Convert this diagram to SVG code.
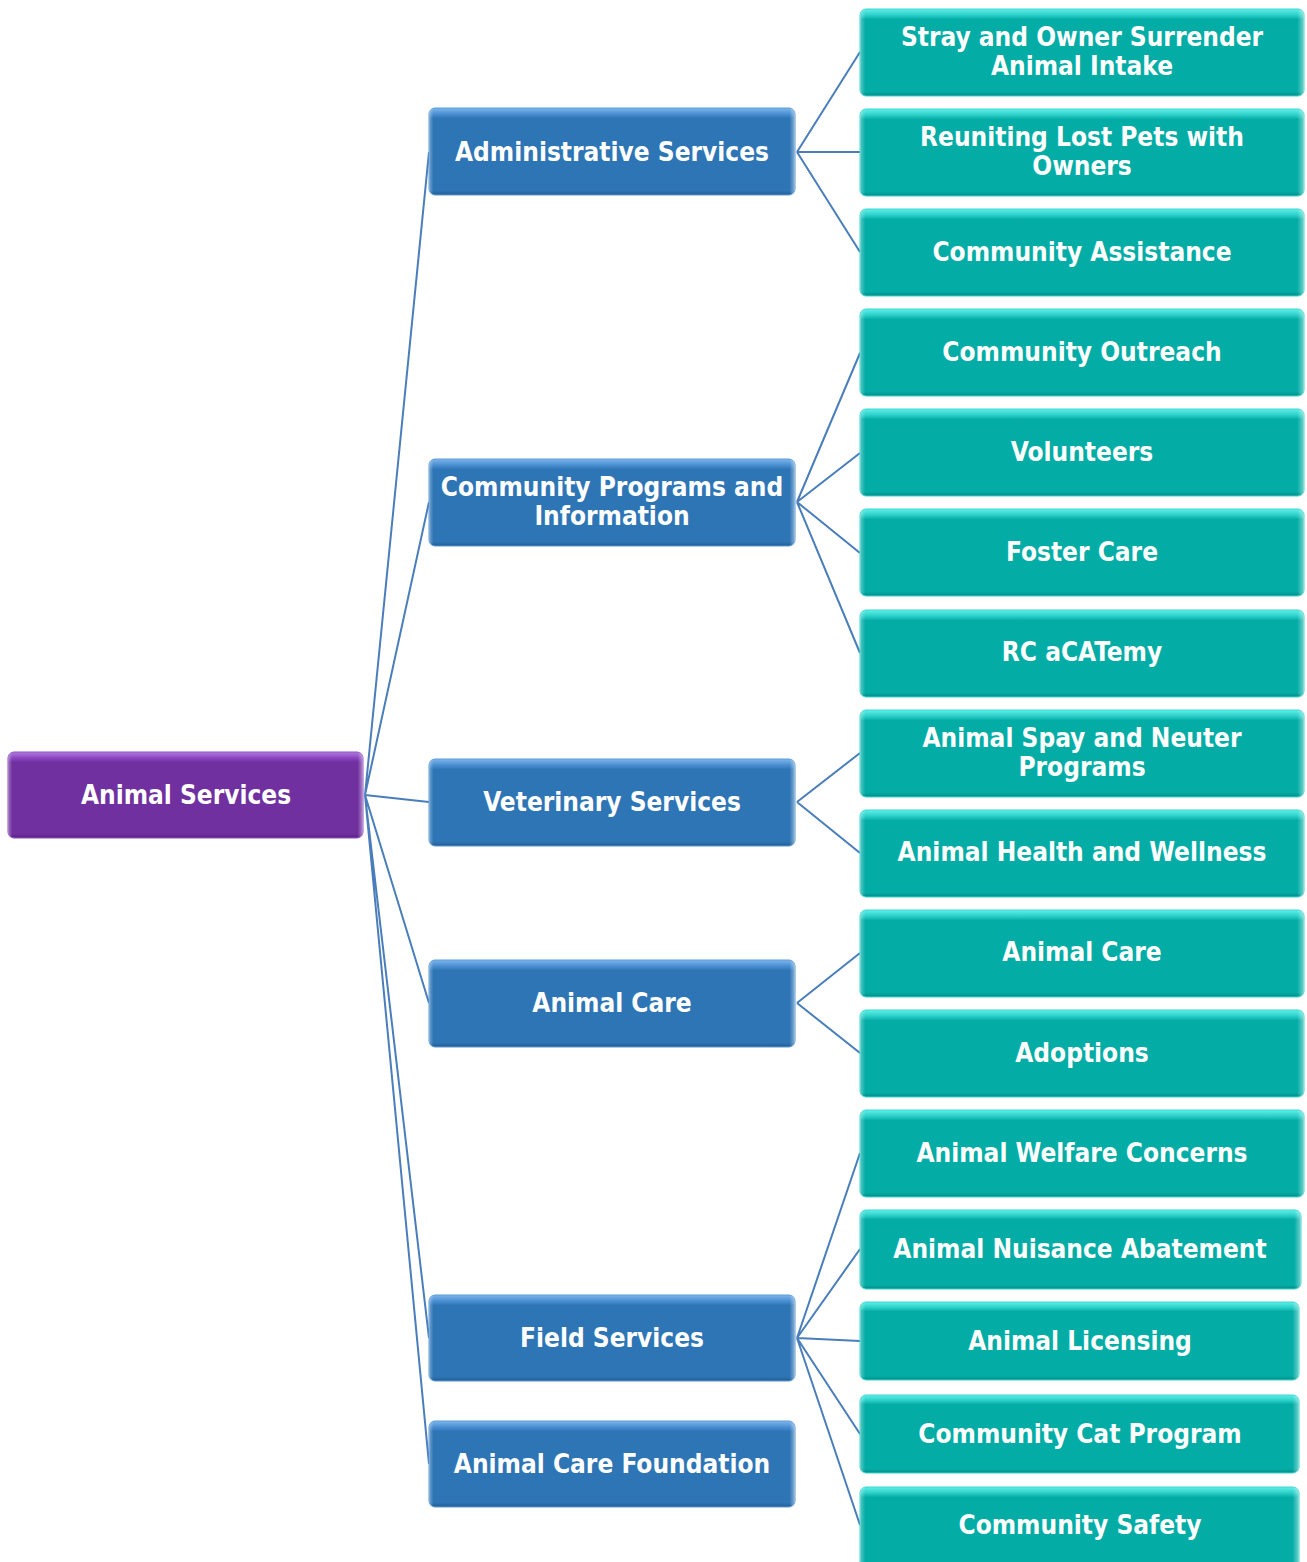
<svg xmlns="http://www.w3.org/2000/svg" width="1307" height="1562" viewBox="0 0 1307 1562">
<defs>
<linearGradient id="gP" x1="0" y1="0" x2="0" y2="1">
<stop offset="0" stop-color="#B27CE0"/><stop offset="0.07" stop-color="#8A45C0"/><stop offset="0.12" stop-color="#7030A0"/><stop offset="0.95" stop-color="#7030A0"/><stop offset="1" stop-color="#5A2282"/>
</linearGradient>
<linearGradient id="gB" x1="0" y1="0" x2="0" y2="1">
<stop offset="0" stop-color="#7FB6EC"/><stop offset="0.07" stop-color="#4A8FD2"/><stop offset="0.12" stop-color="#2E75B6"/><stop offset="0.95" stop-color="#2E75B6"/><stop offset="1" stop-color="#235C92"/>
</linearGradient>
<linearGradient id="gT" x1="0" y1="0" x2="0" y2="1">
<stop offset="0" stop-color="#5FF0EA"/><stop offset="0.07" stop-color="#2CCFC8"/><stop offset="0.12" stop-color="#03ADA6"/><stop offset="0.95" stop-color="#03ADA6"/><stop offset="1" stop-color="#028A84"/>
</linearGradient>
<linearGradient id="gE" x1="0" y1="0" x2="1" y2="0">
<stop offset="0" stop-color="#fff" stop-opacity="0.35"/><stop offset="0.012" stop-color="#fff" stop-opacity="0"/><stop offset="0.985" stop-color="#fff" stop-opacity="0"/><stop offset="1" stop-color="#fff" stop-opacity="0.45"/>
</linearGradient>
</defs>
<style>
.lnk{fill:none;stroke:#4A7EBB;stroke-width:2}
.p{fill:url(#gP);stroke:#8E52C4;stroke-width:1}
.b{fill:url(#gB);stroke:#5A9AD8;stroke-width:1}
.t{fill:url(#gT);stroke:#3CD6CF;stroke-width:1}
.e{fill:url(#gE);stroke:none}
text{font-family:"DejaVu Sans Condensed","DejaVu Sans",sans-serif;font-weight:bold;font-size:26px;fill:#fff;text-anchor:middle}
</style>
<g id="connectors">
<path class="lnk" d="M365 795L429 152M365 795L429 502M365 795L429 802M365 795L429 1003M365 795L429 1338M365 795L429 1464"/>
<path class="lnk" d="M797 152L860 52M797 152L860 152M797 152L860 252"/>
<path class="lnk" d="M797 502L860 353M797 502L860 453M797 502L860 553M797 502L860 653"/>
<path class="lnk" d="M797 802L860 753M797 802L860 853"/>
<path class="lnk" d="M797 1003L860 953M797 1003L860 1053"/>
<path class="lnk" d="M797 1338L860 1153M797 1338L860 1249M797 1338L860 1341M797 1338L860 1434M797 1338L860 1525"/>
</g>
<g id="n-root"><rect class="p" x="8" y="752" width="355" height="86" rx="6"/><rect class="e" x="8" y="752" width="355" height="86" rx="6"/><text x="186" y="804">Animal Services</text></g>
<g id="n-admin"><rect class="b" x="429" y="108" width="366" height="87" rx="6"/><rect class="e" x="429" y="108" width="366" height="87" rx="6"/><text x="612" y="161">Administrative Services</text></g>
<g id="n-cpi"><rect class="b" x="429" y="459" width="366" height="87" rx="6"/><rect class="e" x="429" y="459" width="366" height="87" rx="6"/><text x="612" y="496">Community Programs and</text><text x="612" y="525">Information</text></g>
<g id="n-vet"><rect class="b" x="429" y="759" width="366" height="87" rx="6"/><rect class="e" x="429" y="759" width="366" height="87" rx="6"/><text x="612" y="811">Veterinary Services</text></g>
<g id="n-care"><rect class="b" x="429" y="960" width="366" height="87" rx="6"/><rect class="e" x="429" y="960" width="366" height="87" rx="6"/><text x="612" y="1012">Animal Care</text></g>
<g id="n-field"><rect class="b" x="429" y="1295" width="366" height="86" rx="6"/><rect class="e" x="429" y="1295" width="366" height="86" rx="6"/><text x="612" y="1347">Field Services</text></g>
<g id="n-found"><rect class="b" x="429" y="1421" width="366" height="86" rx="6"/><rect class="e" x="429" y="1421" width="366" height="86" rx="6"/><text x="612" y="1473">Animal Care Foundation</text></g>
<g id="n-stray"><rect class="t" x="860" y="9" width="444" height="87" rx="6"/><rect class="e" x="860" y="9" width="444" height="87" rx="6"/><text x="1082" y="46">Stray and Owner Surrender</text><text x="1082" y="75">Animal Intake</text></g>
<g id="n-reunite"><rect class="t" x="860" y="109" width="444" height="87" rx="6"/><rect class="e" x="860" y="109" width="444" height="87" rx="6"/><text x="1082" y="146">Reuniting Lost Pets with</text><text x="1082" y="175">Owners</text></g>
<g id="n-assist"><rect class="t" x="860" y="209" width="444" height="87" rx="6"/><rect class="e" x="860" y="209" width="444" height="87" rx="6"/><text x="1082" y="261">Community Assistance</text></g>
<g id="n-outreach"><rect class="t" x="860" y="309" width="444" height="87" rx="6"/><rect class="e" x="860" y="309" width="444" height="87" rx="6"/><text x="1082" y="361">Community Outreach</text></g>
<g id="n-vol"><rect class="t" x="860" y="409" width="444" height="87" rx="6"/><rect class="e" x="860" y="409" width="444" height="87" rx="6"/><text x="1082" y="461">Volunteers</text></g>
<g id="n-foster"><rect class="t" x="860" y="509" width="444" height="87" rx="6"/><rect class="e" x="860" y="509" width="444" height="87" rx="6"/><text x="1082" y="561">Foster Care</text></g>
<g id="n-rc"><rect class="t" x="860" y="610" width="444" height="87" rx="6"/><rect class="e" x="860" y="610" width="444" height="87" rx="6"/><text x="1082" y="661">RC aCATemy</text></g>
<g id="n-spay"><rect class="t" x="860" y="710" width="444" height="87" rx="6"/><rect class="e" x="860" y="710" width="444" height="87" rx="6"/><text x="1082" y="747">Animal Spay and Neuter</text><text x="1082" y="776">Programs</text></g>
<g id="n-health"><rect class="t" x="860" y="810" width="444" height="87" rx="6"/><rect class="e" x="860" y="810" width="444" height="87" rx="6"/><text x="1082" y="861">Animal Health and Wellness</text></g>
<g id="n-acare"><rect class="t" x="860" y="910" width="444" height="87" rx="6"/><rect class="e" x="860" y="910" width="444" height="87" rx="6"/><text x="1082" y="961">Animal Care</text></g>
<g id="n-adopt"><rect class="t" x="860" y="1010" width="444" height="87" rx="6"/><rect class="e" x="860" y="1010" width="444" height="87" rx="6"/><text x="1082" y="1062">Adoptions</text></g>
<g id="n-welfare"><rect class="t" x="860" y="1110" width="444" height="87" rx="6"/><rect class="e" x="860" y="1110" width="444" height="87" rx="6"/><text x="1082" y="1162">Animal Welfare Concerns</text></g>
<g id="n-nuis"><rect class="t" x="860" y="1210" width="441" height="79" rx="6"/><rect class="e" x="860" y="1210" width="441" height="79" rx="6"/><text x="1080" y="1258">Animal Nuisance Abatement</text></g>
<g id="n-lic"><rect class="t" x="860" y="1302" width="439" height="78" rx="6"/><rect class="e" x="860" y="1302" width="439" height="78" rx="6"/><text x="1080" y="1350">Animal Licensing</text></g>
<g id="n-cat"><rect class="t" x="860" y="1395" width="439" height="78" rx="6"/><rect class="e" x="860" y="1395" width="439" height="78" rx="6"/><text x="1080" y="1443">Community Cat Program</text></g>
<g id="n-safety"><rect class="t" x="860" y="1487" width="439" height="85" rx="6"/><rect class="e" x="860" y="1487" width="439" height="85" rx="6"/><text x="1080" y="1534">Community Safety</text></g>
</svg>
